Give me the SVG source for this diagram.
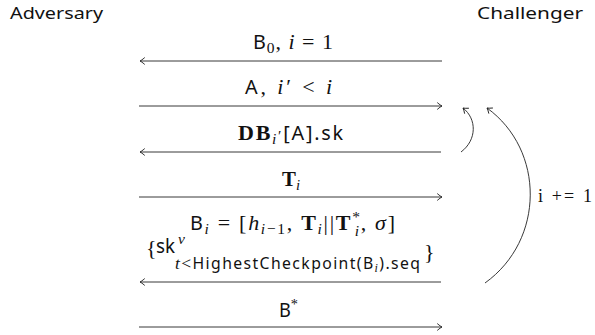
<svg xmlns="http://www.w3.org/2000/svg" width="595" height="335" viewBox="0 0 595 335">
<style>
.party{font-family:"Noto Sans","Open Sans",sans-serif;font-size:17px;fill:#111}
.m{font-family:"Liberation Serif",serif;font-size:22px;fill:#111}
.sf{font-family:"Noto Sans","Open Sans",sans-serif;font-size:0.9em}
.it{font-style:italic}
.bf{font-weight:bold}
.sub{font-size:15.5px}
.sub2{font-size:17.5px}
.ssub{font-size:12px}
.msg{stroke:#222;stroke-width:0.9;fill:none}
.loop{stroke:#222;stroke-width:0.9;fill:none}
.lbl{font-family:"Liberation Serif",serif;font-size:18px;fill:#111}
</style>
<defs>
<marker id="ah" viewBox="-6 -4 7 8" refX="0" refY="0" markerWidth="7" markerHeight="8" markerUnits="userSpaceOnUse" orient="auto">
<path d="M-4.5,-3.2 Q-1.5,-0.6 0,0 Q-1.5,0.6 -4.5,3.2" stroke="#222" stroke-width="0.9" fill="none" stroke-linecap="round"/>
</marker>
</defs>
<g id="adversary"><text class="party" x="10" y="19" textLength="93" lengthAdjust="spacingAndGlyphs">Adversary</text></g>
<g id="challenger"><text class="party" x="477" y="19" textLength="106" lengthAdjust="spacingAndGlyphs">Challenger</text></g>
<g id="connectors">
<line class="msg" x1="442" y1="61" x2="140" y2="61" marker-end="url(#ah)"/>
<line class="msg" x1="139" y1="106" x2="442" y2="106" marker-end="url(#ah)"/>
<line class="msg" x1="441" y1="152" x2="140" y2="152" marker-end="url(#ah)"/>
<line class="msg" x1="139" y1="197" x2="442" y2="197" marker-end="url(#ah)"/>
<line class="msg" x1="441" y1="282" x2="140" y2="282" marker-end="url(#ah)"/>
<line class="msg" x1="139" y1="327" x2="442" y2="327" marker-end="url(#ah)"/>
<path class="loop" d="M461,152 C477,140 477,119 463,108" marker-end="url(#ah)"/>
<path class="loop" d="M485,283 C545,240 545,150 487,108" marker-end="url(#ah)"/>
</g>
<g id="label-b0"><text class="m" x="253" y="49" textLength="80" lengthAdjust="spacing"><tspan class="sf">B</tspan><tspan class="sub" dy="4">0</tspan><tspan dy="-4">, </tspan><tspan class="it">i</tspan> = 1</text></g>
<g id="label-a"><text class="m" x="245" y="94" textLength="87" lengthAdjust="spacing"><tspan class="sf">A</tspan>, <tspan class="it">i</tspan>′ &lt; <tspan class="it">i</tspan></text></g>
<g id="label-db"><text class="m" x="238" y="140" textLength="105" lengthAdjust="spacing"><tspan class="bf">DB</tspan><tspan class="sub it" dy="4">i</tspan><tspan class="sub" dy="-3">′</tspan><tspan class="sf" dy="-1">[A].sk</tspan></text></g>
<g id="label-ti"><text class="m" x="282" y="186" textLength="18" lengthAdjust="spacingAndGlyphs"><tspan class="bf">T</tspan><tspan class="sub it" dy="4">i</tspan></text></g>
<g id="label-bi"><text class="m" x="190" y="230" textLength="205" lengthAdjust="spacing"><tspan class="sf">B</tspan><tspan class="sub it" dy="4">i</tspan><tspan dy="-4"> = [</tspan><tspan class="it">h</tspan><tspan class="sub" dy="4"><tspan class="it">i</tspan>−1</tspan><tspan dy="-4">, </tspan><tspan class="bf">T</tspan><tspan class="sub it" dy="4">i</tspan><tspan dy="-4">||</tspan><tspan class="bf">T</tspan><tspan class="sub" dy="-8">*</tspan><tspan class="sub it" dx="-7" dy="14">i</tspan><tspan dy="-6">, </tspan><tspan class="it">σ</tspan>]</text></g>
<g id="label-sk">
<text class="m" x="146" y="255">{</text>
<text class="m" x="156" y="253" textLength="19" lengthAdjust="spacingAndGlyphs"><tspan class="sf">sk</tspan></text>
<text class="m sub it" x="178" y="244">v</text>
<text class="m sub2" x="175" y="269" textLength="245" lengthAdjust="spacing"><tspan class="it">t</tspan>&lt;<tspan class="sf">HighestCheckpoint(B</tspan><tspan class="ssub it" dy="3">i</tspan><tspan class="sf" dy="-3">).seq</tspan></text>
<text class="m" x="424" y="259">}</text>
</g>
<g id="label-bstar"><text class="m" x="279" y="317" textLength="19" lengthAdjust="spacingAndGlyphs"><tspan class="sf">B</tspan><tspan class="sub" dy="-8">*</tspan></text></g>
<g id="label-loop"><text class="lbl" x="538" y="202" textLength="54" lengthAdjust="spacing">i += 1</text></g>
</svg>
